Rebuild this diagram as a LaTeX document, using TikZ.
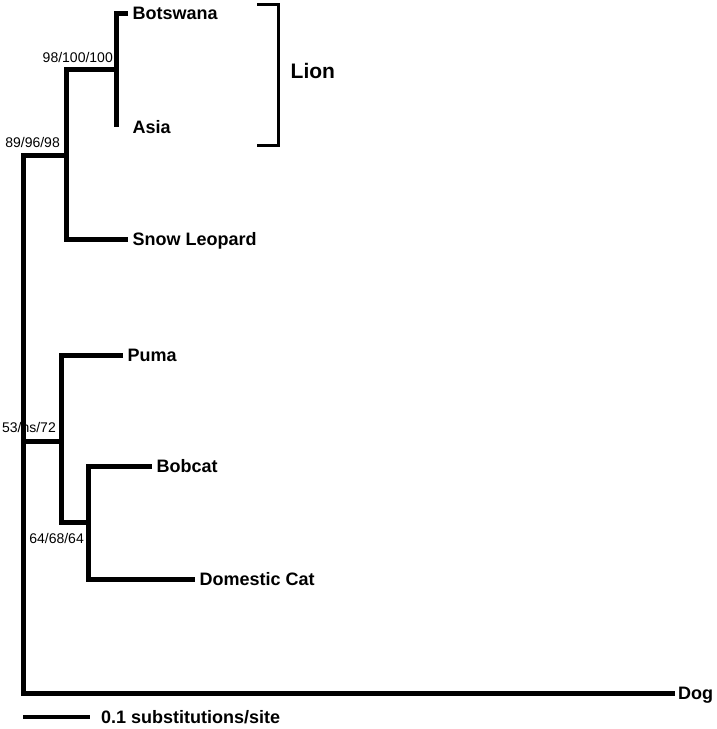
\documentclass[tikz,border=0pt]{standalone}
\usepackage{fontspec}
\setmainfont{Liberation Sans}
\begin{document}
\begin{tikzpicture}[x=1pt,y=-1pt,
  branch/.style={line width=5pt},
  bracket/.style={line width=3pt},
  scalebar/.style={line width=4.5pt},
  leaf/.style={anchor=west,inner xsep=4.5pt,inner ysep=0pt,text height=12.9pt,text depth=0pt,font=\fontsize{18}{20}\selectfont\bfseries},
  support/.style={anchor=base east,inner sep=0pt,font=\fontsize{14}{16}\selectfont}]

\useasboundingbox (0,0) rectangle (717,729);

% Support values (drawn first, the branches lie on top)
\node[support] (supB) at (113,62) {98/100/100};
\node[support] (supA) at (60,147) {89/96/98};
\node[support] (supC) at (56,432) {53/ns/72};
\node[support] (supD) at (84,543) {64/68/64};

% Internal nodes
\coordinate (root) at (23.5,441);
\coordinate (nA) at (66,155);
\coordinate (nB) at (116,69);
\coordinate (nC) at (61,441);
\coordinate (nD) at (88,522);

% Leaves
\node[leaf] (botswana) at (128,13) {Botswana};
\node[leaf] (asia) at (128,127) {Asia};
\node[leaf] (snow) at (128,239) {Snow Leopard};
\node[leaf] (puma) at (123,355) {Puma};
\node[leaf] (bobcat) at (152,466) {Bobcat};
\node[leaf] (domcat) at (195,579) {Domestic Cat};
\node[leaf,inner xsep=3pt] (dog) at (675,693) {Dog};

% Branches
\draw[branch] (nA) -| (root) |- (dog.west);
\draw[branch] (root) -- (nC);
\draw[branch] (nB) -| (nA) |- (snow.west);
\draw[branch] (botswana.west) -| (nB) -- (nB |- asia.west);
\draw[branch] (puma.west) -| (nC) |- (nD);
\draw[branch] (bobcat.west) -| (nD) |- (domcat.west);

% Lion bracket
\coordinate (lionTop) at (257,4);
\coordinate (lionBot) at (257,145);
\node[anchor=west,inner sep=0pt,text height=15pt,text depth=0pt,font=\fontsize{21}{24}\selectfont\bfseries] (lion) at (290.5,70.5) {Lion};
\draw[bracket] (lionTop) -- ++(21,0) |- (lionBot);

% Scale bar
\coordinate (barStart) at (23,717);
\node[leaf,inner xsep=11pt] (bartext) at (90,717) {0.1 substitutions/site};
\draw[scalebar] (barStart) -- (bartext.west);

\end{tikzpicture}
\end{document}
